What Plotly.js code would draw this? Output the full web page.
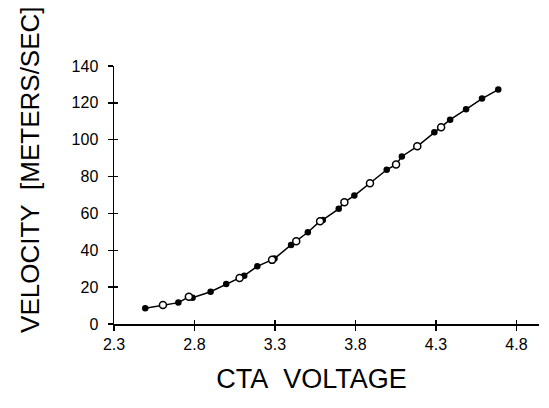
<!DOCTYPE html>
<html>
<head>
<meta charset="utf-8">
<script src="https://cdn.plot.ly/plotly-3.0.1.min.js"></script>
<style>html,body{margin:0;padding:0;background:#fff}#chart{width:549px;height:408px}</style>
</head>
<body>
<div id="chart"></div>
<script>
// Filled-circle series
const filledX = [2.494, 2.70, 2.788, 2.90, 2.997, 3.109, 3.19, 3.297, 3.40, 3.504, 3.597, 3.696, 3.793, 3.994, 4.088, 4.29, 4.388, 4.487, 4.586, 4.687];
const filledY = [8.5, 11.6, 14.3, 17.5, 21.7, 26.2, 31.3, 35.5, 42.9, 49.8, 56.5, 62.5, 69.7, 83.7, 90.9, 104.1, 110.9, 116.5, 122.3, 127.2];
// Open-circle series
const openX = [2.604, 2.765, 3.08, 3.282, 3.432, 3.58, 3.731, 3.89, 4.052, 4.184, 4.332];
const openY = [10.3, 14.8, 25.0, 34.8, 44.9, 55.8, 66.1, 76.4, 86.6, 96.4, 106.8];
// Tick values
const xTicks = [2.3, 2.8, 3.3, 3.8, 4.3, 4.8];
const yTicks = [0, 20, 40, 60, 80, 100, 120, 140];

const pts = filledX.map((x, i) => [x, filledY[i]]).concat(openX.map((x, i) => [x, openY[i]]));
pts.sort((a, b) => a[0] - b[0]);

const sans = 'Liberation Sans, Arial, sans-serif';
const pad = n => '&nbsp;'.repeat(n);

const traces = [
  {x: pts.map(p => p[0]), y: pts.map(p => p[1]), mode: 'lines', type: 'scatter',
   line: {color: '#000', width: 1.5}, hoverinfo: 'skip', showlegend: false},
  {x: filledX, y: filledY, mode: 'markers', type: 'scatter', name: 'filled',
   marker: {symbol: 'circle', size: 6.5, color: '#000'}, showlegend: false},
  {x: openX, y: openY, mode: 'markers', type: 'scatter', name: 'open',
   marker: {symbol: 'circle', size: 7, color: '#fff', line: {color: '#000', width: 1.5}}, showlegend: false},
  {x: [2.3], y: [0], xaxis: 'x2', yaxis: 'y2', mode: 'markers', marker: {opacity: 0}, hoverinfo: 'skip', showlegend: false}
];

const layout = {
  width: 549, height: 408,
  margin: {l: 114, r: 10, t: 66, b: 84},
  paper_bgcolor: '#fff', plot_bgcolor: '#fff',
  showlegend: false,
  font: {family: sans, color: '#000'},
  xaxis: {
    range: [2.3, 4.94], tickvals: xTicks, ticktext: xTicks.map(v => v.toFixed(1)),
    showgrid: false, zeroline: false, showline: true, linecolor: '#000', linewidth: 1.5,
    ticks: 'outside', ticklen: 5, tickwidth: 1.5, tickcolor: '#000',
    tickfont: {family: sans, size: 16, color: '#000'},
    title: {text: 'CTA&nbsp;&nbsp;VOLTAGE' + pad(4), font: {family: sans, size: 27, color: '#000'}, standoff: 17}
  },
  yaxis: {
    range: [0, 140], tickvals: yTicks,
    showgrid: false, zeroline: false, showline: true, linecolor: '#000', linewidth: 1.5,
    ticks: 'outside', ticklen: 5, tickwidth: 1.5, tickcolor: '#000', ticklabelstandoff: 6,
    tickfont: {family: sans, size: 16, color: '#000'},
    title: {text: pad(7) + 'VELOCITY&nbsp;&nbsp;[METERS/SEC]', font: {family: sans, size: 26, color: '#000'}, standoff: 24}
  },
  xaxis2: {overlaying: 'x', matches: 'x', range: [2.3, 4.94], tickvals: xTicks, showticklabels: false,
    ticks: 'inside', ticklen: 4, tickwidth: 1.5, tickcolor: '#000', showgrid: false, zeroline: false, showline: false},
  yaxis2: {overlaying: 'y', matches: 'y', range: [0, 140], tickvals: yTicks, showticklabels: false,
    ticks: 'inside', ticklen: 4, tickwidth: 1.5, tickcolor: '#000', showgrid: false, zeroline: false, showline: false}
};

Plotly.newPlot('chart', traces, layout, {staticPlot: true, displayModeBar: false});
</script>
</body>
</html>
